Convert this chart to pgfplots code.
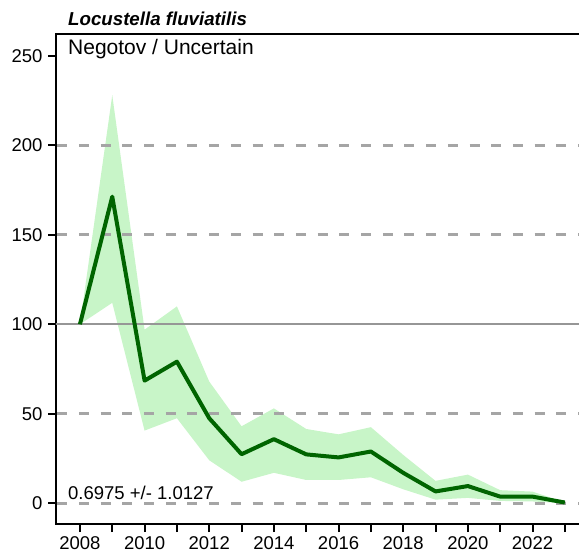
\documentclass[border=0pt]{standalone}
\usepackage{pgfplots}
\pgfplotsset{compat=1.18}
\usepackage{fontspec}
\setmainfont{Liberation Sans}
\definecolor{band}{RGB}{200,245,200}
\definecolor{dgreen}{RGB}{0,100,0}
\definecolor{gline}{RGB}{165,165,165}
\definecolor{sline}{RGB}{150,150,150}
\begin{document}
\begin{tikzpicture}
\useasboundingbox (0,0) rectangle (579pt,555pt);
\begin{axis}[
  at={(56pt,31pt)}, anchor=south west,
  scale only axis, width=526pt, height=490pt,
  xmin=2007.26, xmax=2023.53, ymin=-11.6, ymax=262.2,
  xtick={2008,2010,...,2022}, minor xtick={2009,2011,...,2023},
  ytick={0,50,...,250},
  xtick pos=bottom, ytick pos=left,
  tick align=outside, major tick length=8pt, minor tick length=8pt,
  every tick/.style={black, line width=2pt},
  axis line style={line width=1.5pt},
  ticklabel style={font=\fontsize{18.5}{22}\selectfont},
  xticklabel style={yshift=-3pt, inner sep=1pt},
  yticklabel style={xshift=-2pt},
  /pgf/number format/assume math mode=true,
  /pgf/number format/1000 sep={},
  clip=true,
]
\addplot[fill=band, draw=none] coordinates {
 (2008,100)(2009,228)(2010,97)(2011,110)(2012,68)(2013,43)(2014,53)(2015,41.5)(2016,38.5)(2017,42.5)(2018,27)(2019,12.5)(2020,16)(2021,7.3)(2022,6.5)(2023,0.5)
 (2023,0)(2022,1)(2021,1.3)(2020,3)(2019,2)(2018,7.8)(2017,14.5)(2016,13)(2015,13)(2014,17)(2013,12)(2012,24)(2011,47.5)(2010,40.6)(2009,112)(2008,100)
} -- cycle;
\addplot[gline, line width=3pt, dash pattern=on 10pt off 11.7pt] coordinates {(2007.3,0)(2024,0)};
\addplot[gline, line width=3pt, dash pattern=on 10pt off 11.7pt] coordinates {(2007.3,50)(2024,50)};
\addplot[gline, line width=3pt, dash pattern=on 10pt off 11.7pt] coordinates {(2007.3,150)(2024,150)};
\addplot[gline, line width=3pt, dash pattern=on 10pt off 11.7pt] coordinates {(2007.3,200)(2024,200)};
\addplot[sline, line width=2pt] coordinates {(2007.2,100)(2024,100)};
\addplot[dgreen, line width=4pt, line join=round] coordinates {
 (2008,100)(2009,171.3)(2010,68.5)(2011,79.1)(2012,47.5)(2013,27.4)(2014,35.8)(2015,27.3)(2016,25.6)(2017,28.9)(2018,17)(2019,6.6)(2020,9.6)(2021,3.7)(2022,3.7)(2023,0.4)
};
\end{axis}
\node[anchor=base west, inner sep=0pt, font=\fontsize{18.7}{22}\selectfont\bfseries\itshape] at (68pt,529pt) {Locustella fluviatilis};
\node[anchor=base west, inner sep=0pt, font=\fontsize{21}{25}\selectfont] at (68pt,500pt) {Negotov / Uncertain};
\node[anchor=base west, inner sep=0pt, font=\fontsize{18.5}{22}\selectfont] at (68pt,55.7pt) {0.6975 +/- 1.0127};
\end{tikzpicture}
\end{document}
